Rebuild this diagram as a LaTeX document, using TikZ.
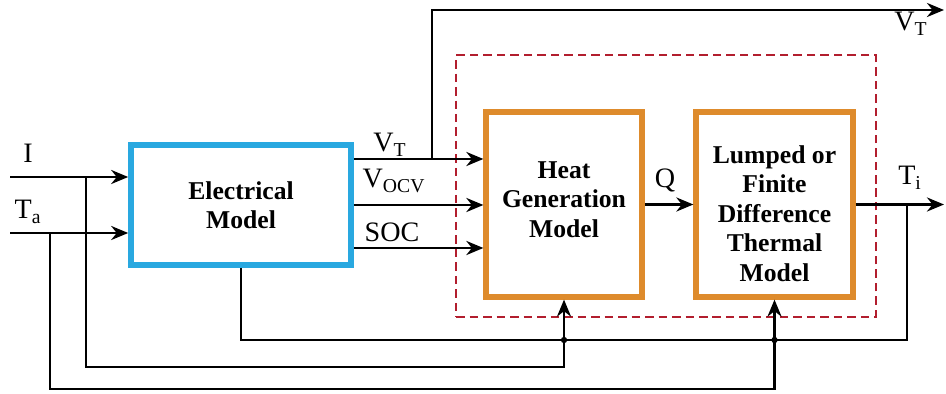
\documentclass[tikz,border=0pt]{standalone}
\usepackage{fontspec}
\setmainfont{Liberation Serif}[BoldFont={Liberation Serif Bold}]
\usetikzlibrary{arrows.meta,positioning}

\definecolor{elblue}{RGB}{41,168,224}
\definecolor{thorange}{RGB}{222,139,44}
\definecolor{bndred}{RGB}{178,30,46}

\begin{document}
\begin{tikzpicture}[x=0.02cm,y=-0.02cm,
		>={Stealth[length=3.4mm,width=2.8mm]},
		line width=1.6pt,
		model/.style={draw, line width=3pt, fill=white, align=center,%
			inner sep=0pt, font=\bfseries\fontsize{14.6}{16.8}\selectfont},
		sig/.style={inner sep=0pt, font=\fontsize{16}{18}\selectfont}]
	\useasboundingbox (0,0) rectangle (946,394);

	% dashed frame round the thermal part
	\node[draw=bndred, dash pattern=on 1.7mm off 1mm, line width=1.6pt,%
		minimum width=8.4cm, minimum height=5.24cm] (grp) at (666,186) {};

	\node[model, draw=elblue, line width=3.2pt, minimum width=4.4cm,%
		minimum height=2.4cm] (elec) at (241,205) {Electrical\\Model};
	\node[model, draw=thorange, minimum width=3.12cm,%
		minimum height=3.7cm] (heat) at (564,204.5) {Heat\\Generation\\Model\rule[-0.2cm]{0pt}{0pt}};
	\node[model, draw=thorange, minimum width=3.14cm,%
		minimum height=3.7cm] (lump) at (774.5,204.5) {\rule{0pt}{0.72cm}Lumped or\\Finite\\Difference\\Thermal\\Model};

	% free ends and branch points
	\coordinate (inI) at (10,177);
	\coordinate (inT) at (10,233);
	\coordinate (ib) at (86,177);
	\coordinate (tb) at (50,233);
	\coordinate (vtb) at (432,159);
	\coordinate (outVT) at (944,10);
	\coordinate (tib) at (907,204.5);
	\coordinate (outTi) at (944,204.5);
	\coordinate (fb) at (907,340);

	\draw[->] (inI) -- (inI -| elec.west);
	\draw[->] (inT) -- (inT -| elec.west);
	\foreach \yy in {159,205,248}{
		\draw[->] (elec.east |- 0,\yy) -- (heat.west |- 0,\yy);
	}
	\draw[->] (vtb) -- (vtb |- outVT) -- (outVT);
	\draw[->] (heat) -- (lump);
	\draw[->] (lump.east) -- (outTi);

	% feedback lines
	\draw (elec.south) |- (fb) -- (tib);
	\draw[->] (ib) |- (heat.south |- 0,367) -- (heat.south);
	\draw[->] (tb) |- (lump.south |- 0,389) -- (lump.south);
	\fill (heat.south |- fb) circle[radius=1.8pt];
	\fill (lump.south |- fb) circle[radius=1.8pt];

	% signal labels
	\node[sig] (lI) at (28,153) {I};
	\node[sig] (lTa) at (28,212) {T\textsubscript{a}};
	\node[sig] (lVT) at (390,145) {V\textsubscript{T}};
	\node[sig] (lVOCV) at (394,181) {V\textsubscript{OCV}};
	\node[sig] (lSOC) at (392,232) {SOC};
	\node[sig] (lQ) at (665,180) {Q};
	\node[sig] (lTi) at (910,178) {T\textsubscript{i}};
	\node[sig] (lVTo) at (911,24) {V\textsubscript{T}};
\end{tikzpicture}
\end{document}
